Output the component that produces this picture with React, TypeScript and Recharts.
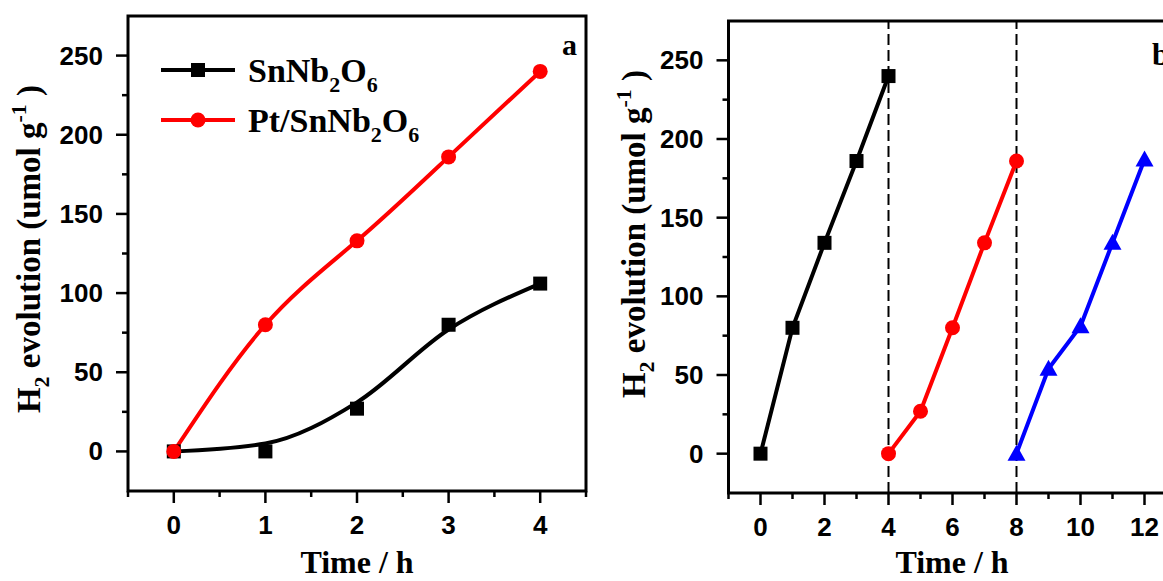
import React from 'react';
import { LineChart, Line, XAxis, YAxis, ReferenceArea, ReferenceLine } from 'recharts';

// ---------- data ----------
const hoursA = [0, 1, 2, 3, 4];
const snnbValues = [0, 0, 27, 80, 106];
const snnbFitValues = [0, 5, 31, 77, 106];
const ptSnnbValues = [0, 80, 133, 186, 240];

const cycle1Hours = [0, 1, 2, 3, 4];
const cycle1Values = [0, 80, 134, 186, 240];
const cycle2Hours = [4, 5, 6, 7, 8];
const cycle2Values = [0, 27, 80, 134, 186];
const cycle3Hours = [8, 9, 10, 11, 12];
const cycle3Values = [0, 54, 81, 134, 187];

const xTicksA = [-0.5, 0, 0.5, 1, 1.5, 2, 2.5, 3, 3.5, 4, 4.5];
const xMajorA = [0, 1, 2, 3, 4];
const xTicksB = [-1, 0, 1, 2, 3, 4, 5, 6, 7, 8, 9, 10, 11, 12, 13];
const xMajorB = [0, 2, 4, 6, 8, 10, 12];
const yTicks = [0, 25, 50, 75, 100, 125, 150, 175, 200, 225, 250];
const yMajor = [0, 50, 100, 150, 200, 250];
const cycleBreaks = [4, 8];

const dataA = hoursA.map((h, i) => ({
  h,
  snnb: snnbValues[i],
  fit: snnbFitValues[i],
  pt: ptSnnbValues[i],
}));
const dataC1 = cycle1Hours.map((h, i) => ({ h, v: cycle1Values[i] }));
const dataC2 = cycle2Hours.map((h, i) => ({ h, v: cycle2Values[i] }));
const dataC3 = cycle3Hours.map((h, i) => ({ h, v: cycle3Values[i] }));

// ---------- styles ----------
const SERIF = '"Liberation Serif", "Times New Roman", serif';
const SANS = '"Liberation Sans", Arial, sans-serif';
const RED = '#ff0000';
const BLUE = '#0000ff';
const LW = 4;

const makeXTick = (majors: number[]) => (props: any) => {
  const { x, y, payload } = props;
  const v = payload.value;
  const major = majors.includes(v);
  return (
    <g>
      <line x1={x} x2={x} y1={y} y2={y + (major ? 12 : 6)} stroke="#000" strokeWidth={2.5} />
      {major && (
        <text x={x} y={y + 34} textAnchor="middle" dominantBaseline="central" fontFamily={SANS} fontWeight="bold" fontSize={26} fill="#000">
          {v}
        </text>
      )}
    </g>
  );
};

const YTick = (props: any) => {
  const { x, y, payload } = props;
  const v = payload.value;
  const major = yMajor.includes(v);
  return (
    <g>
      <line x1={x - (major ? 12 : 6)} x2={x} y1={y} y2={y} stroke="#000" strokeWidth={2.5} />
      {major && (
        <text x={x - 25} y={y} textAnchor="end" dominantBaseline="central" fontFamily={SANS} fontWeight="bold" fontSize={26} fill="#000">
          {v}
        </text>
      )}
    </g>
  );
};

const SquareDot = (props: any) => {
  const { cx, cy } = props;
  if (cx == null || cy == null) return null;
  return <rect x={cx - 7} y={cy - 7} width={14} height={14} fill="#000" />;
};
const CircleDot = (color: string) => (props: any) => {
  const { cx, cy } = props;
  if (cx == null || cy == null) return null;
  return <circle cx={cx} cy={cy} r={7.5} fill={color} />;
};
const TriangleDot = (props: any) => {
  const { cx, cy } = props;
  if (cx == null || cy == null) return null;
  return <polygon points={`${cx},${cy - 9} ${cx - 9},${cy + 7} ${cx + 9},${cy + 7}`} fill={BLUE} />;
};

const YTitle = ({ x, y }: { x: number; y: number }) => (
  <text transform={`translate(${x}, ${y}) rotate(-90)`} textAnchor="middle" fontFamily={SERIF} fontWeight="bold" fontSize={33} fill="#000">
    H<tspan fontSize={22} dy={9}>2</tspan>
    <tspan dy={-9}> evolution (umol g</tspan>
    <tspan fontSize={22} dy={-14}>-1</tspan>
    <tspan dy={14}> )</tspan>
  </text>
);

const XTitle = ({ x, y }: { x: number; y: number }) => (
  <text x={x} y={y} textAnchor="middle" fontFamily={SERIF} fontWeight="bold" fontSize={32} fill="#000">
    Time / h
  </text>
);

export default function App() {
  return (
    <div style={{ position: 'fixed', left: 0, top: 0, width: 1163, height: 581, overflow: 'hidden', background: '#fff' }}>
      {/* Panel a */}
      <div style={{ position: 'absolute', left: 0, top: 0 }}>
        <LineChart width={600} height={581} data={dataA} margin={{ top: 16, right: 14, bottom: 0, left: 0 }}>
          <XAxis
            dataKey="h"
            type="number"
            domain={[-0.5, 4.5]}
            ticks={xTicksA}
            interval={0}
            tickSize={0}
            tickMargin={0}
            axisLine={false}
            tickLine={false}
            tick={makeXTick(xMajorA)}
            height={90}
          />
          <YAxis
            type="number"
            domain={[-25, 275]}
            ticks={yTicks}
            interval={0}
            tickSize={0}
            tickMargin={0}
            axisLine={false}
            tickLine={false}
            tick={YTick}
            width={128}
          />
          <ReferenceArea x1={-0.5} x2={4.5} y1={-25} y2={275} fill="none" stroke="#000" strokeWidth={3} ifOverflow="visible" />
          <Line dataKey="fit" type="monotone" stroke="#000" strokeWidth={LW} dot={false} isAnimationActive={false} />
          <Line dataKey="snnb" stroke="none" dot={SquareDot} activeDot={false} isAnimationActive={false} />
          <Line dataKey="pt" type="natural" stroke={RED} strokeWidth={LW} dot={CircleDot(RED)} activeDot={false} isAnimationActive={false} />
          <g>
            <line x1={161} x2={235} y1={70} y2={70} stroke="#000" strokeWidth={LW} />
            <rect x={191} y={63} width={14} height={14} fill="#000" />
            <text x={248} y={82} fontFamily={SERIF} fontWeight="bold" fontSize={34} fill="#000">
              SnNb<tspan fontSize={22} dy={10}>2</tspan>
              <tspan dy={-10}>O</tspan>
              <tspan fontSize={22} dy={10}>6</tspan>
            </text>
            <line x1={161} x2={235} y1={120} y2={120} stroke={RED} strokeWidth={LW} />
            <circle cx={198} cy={120} r={7.5} fill={RED} />
            <text x={248} y={132} fontFamily={SERIF} fontWeight="bold" fontSize={34} fill="#000">
              Pt/SnNb<tspan fontSize={22} dy={10}>2</tspan>
              <tspan dy={-10}>O</tspan>
              <tspan fontSize={22} dy={10}>6</tspan>
            </text>
            <text x={562} y={55} fontFamily={SERIF} fontWeight="bold" fontSize={30} fill="#000">a</text>
            <YTitle x={40} y={249} />
            <XTitle x={357} y={573} />
          </g>
        </LineChart>
      </div>

      {/* Panel b */}
      <div style={{ position: 'absolute', left: 600, top: 0 }}>
        <LineChart width={640} height={581} margin={{ top: 21, right: 63.5, bottom: 0, left: 0 }}>
          <XAxis
            dataKey="h"
            type="number"
            domain={[-1, 13]}
            ticks={xTicksB}
            interval={0}
            tickSize={0}
            tickMargin={0}
            axisLine={false}
            tickLine={false}
            tick={makeXTick(xMajorB)}
            height={88}
            allowDuplicatedCategory={false}
          />
          <YAxis
            type="number"
            domain={[-25, 275]}
            ticks={yTicks}
            interval={0}
            tickSize={0}
            tickMargin={0}
            axisLine={false}
            tickLine={false}
            tick={YTick}
            width={128.5}
          />
          <ReferenceArea x1={-1} x2={13} y1={-25} y2={275} fill="none" stroke="#000" strokeWidth={3} ifOverflow="visible" />
          {cycleBreaks.map((b) => (
            <ReferenceLine key={b} x={b} stroke="#000" strokeWidth={2} strokeDasharray="11 5" />
          ))}
          <Line data={dataC1} dataKey="v" type="linear" stroke="#000" strokeWidth={LW} dot={SquareDot} activeDot={false} isAnimationActive={false} />
          <Line data={dataC2} dataKey="v" type="linear" stroke={RED} strokeWidth={LW} dot={CircleDot(RED)} activeDot={false} isAnimationActive={false} />
          <Line data={dataC3} dataKey="v" type="linear" stroke={BLUE} strokeWidth={LW} dot={TriangleDot} activeDot={false} isAnimationActive={false} />
          <g>
            <text x={552} y={65} fontFamily={SERIF} fontWeight="bold" fontSize={31} fill="#000">b</text>
            <YTitle x={45} y={234} />
            <XTitle x={352} y={573} />
          </g>
        </LineChart>
      </div>
    </div>
  );
}
